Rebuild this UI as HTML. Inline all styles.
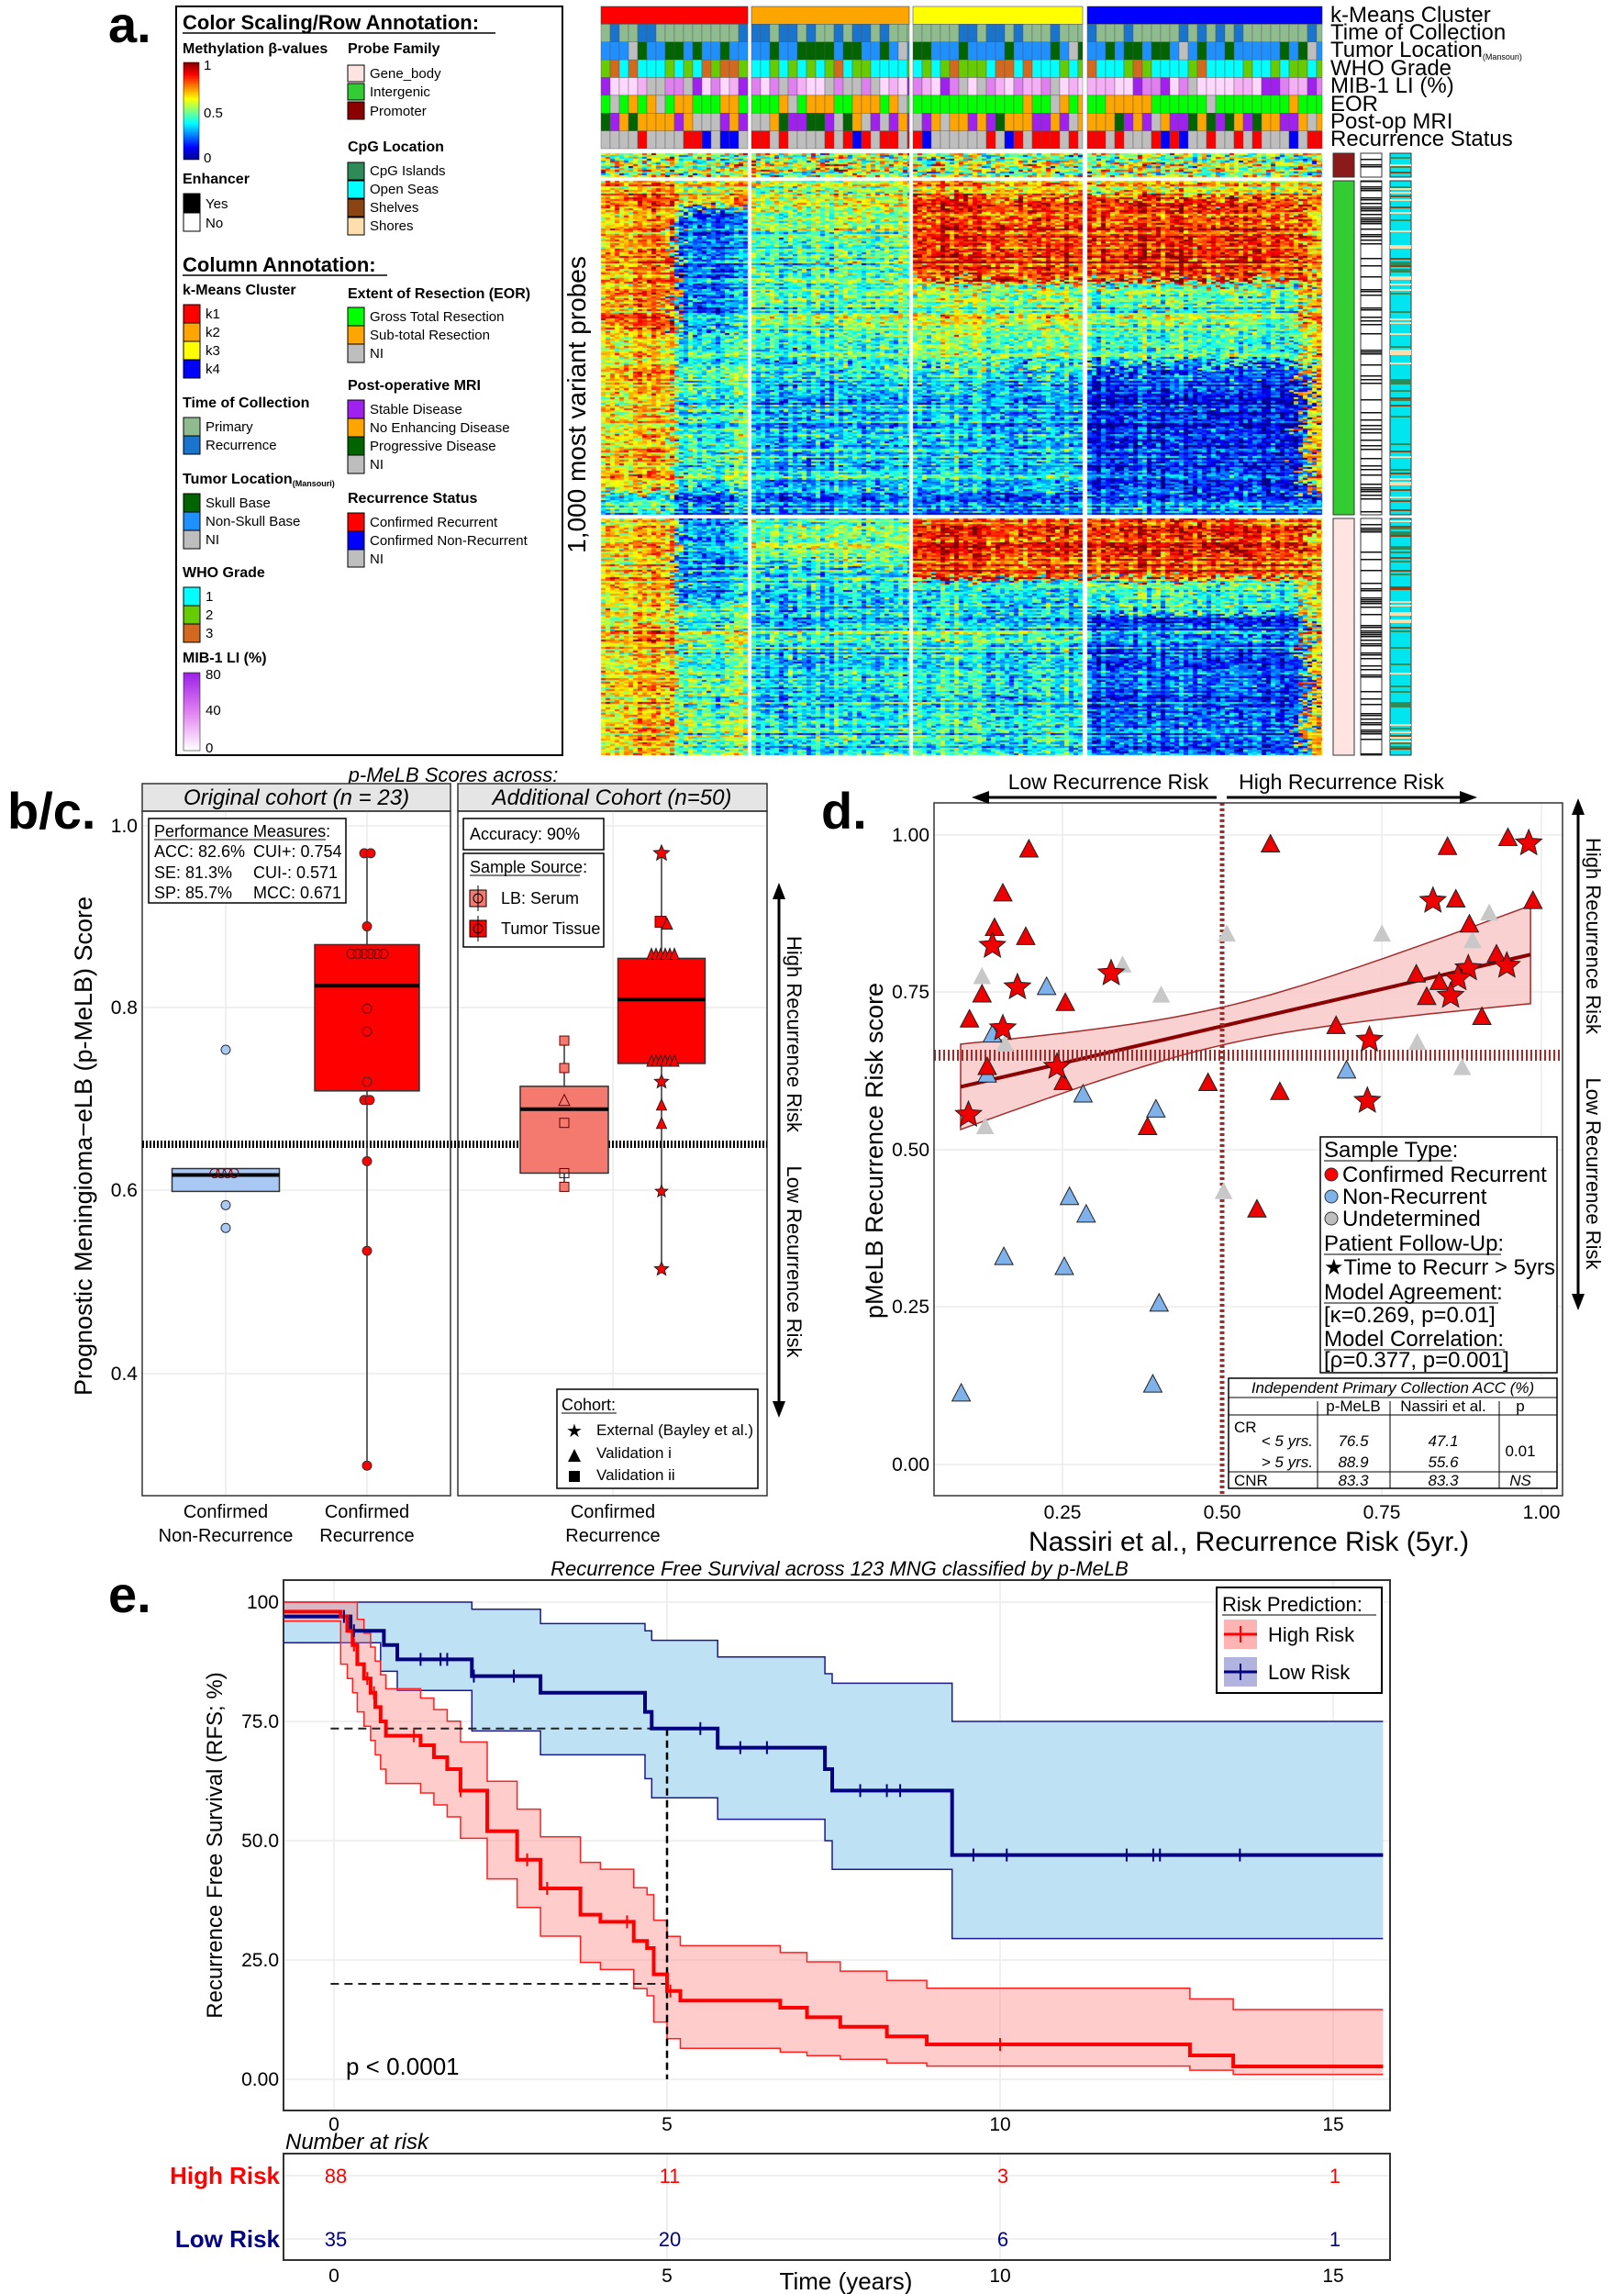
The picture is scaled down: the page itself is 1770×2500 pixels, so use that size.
<!DOCTYPE html>
<html><head><meta charset="utf-8">
<style>
html,body{margin:0;padding:0;background:#fff;}
#wrap{position:relative;width:1770px;height:2500px;overflow:hidden;}
#hm{position:absolute;left:0;top:0;}
svg{position:absolute;left:0;top:0;}
text{font-family:"Liberation Sans Narrow","Liberation Sans",sans-serif;}
.w{font-family:"Liberation Sans",sans-serif;}
</style></head>
<body><div id="wrap">
<canvas id="hm" width="1770" height="830"></canvas>
<svg id="s" width="1770" height="2500" xmlns="http://www.w3.org/2000/svg">
<text x="118" y="46" font-size="56" font-weight="bold" class="w">a.</text>
<rect x="192" y="7" width="421" height="816" fill="none" stroke="#000" stroke-width="2"/>
<text x="199" y="32" font-size="22" font-weight="bold">Color Scaling/Row Annotation:</text>
<line x1="199" y1="36" x2="540" y2="36" stroke="#000" stroke-width="1.5"/>
<defs>
<linearGradient id="jet" x1="0" y1="1" x2="0" y2="0">
<stop offset="0" stop-color="#00008f"/><stop offset="0.125" stop-color="#0000ff"/><stop offset="0.375" stop-color="#00ffff"/><stop offset="0.5" stop-color="#80ff80"/><stop offset="0.625" stop-color="#ffff00"/><stop offset="0.875" stop-color="#ff0000"/><stop offset="1" stop-color="#800000"/></linearGradient>
<linearGradient id="mib" x1="0" y1="1" x2="0" y2="0"><stop offset="0" stop-color="#ffffff"/><stop offset="0.5" stop-color="#e080f0"/><stop offset="1" stop-color="#9a20e8"/></linearGradient>
</defs>
<text x="199" y="58" font-size="16" font-weight="bold">Methylation β-values</text>
<text x="379" y="58" font-size="16" font-weight="bold">Probe Family</text>
<rect x="200" y="68" width="17" height="106" fill="url(#jet)" stroke="#000" stroke-width="0.5"/>
<text x="222" y="76" font-size="15">1</text><text x="222" y="128" font-size="15">0.5</text><text x="222" y="177" font-size="15">0</text>
<rect x="379" y="71" width="18" height="18" fill="#ffe4e1" stroke="#000"/><text x="403" y="85" font-size="15">Gene_body</text>
<rect x="379" y="91" width="18" height="18" fill="#33cc33" stroke="#000"/><text x="403" y="105" font-size="15">Intergenic</text>
<rect x="379" y="111" width="18" height="19" fill="#8b0000" stroke="#000"/><text x="403" y="126" font-size="15">Promoter</text>
<text x="379" y="165" font-size="16" font-weight="bold">CpG Location</text>
<rect x="379" y="177" width="18" height="19" fill="#2e8b57" stroke="#000"/><text x="403" y="191" font-size="15">CpG Islands</text>
<rect x="379" y="197" width="18" height="19" fill="#00ffff" stroke="#000"/><text x="403" y="211" font-size="15">Open Seas</text>
<rect x="379" y="217" width="18" height="19" fill="#8b4513" stroke="#000"/><text x="403" y="231" font-size="15">Shelves</text>
<rect x="379" y="237" width="18" height="19" fill="#ffdead" stroke="#000"/><text x="403" y="251" font-size="15">Shores</text>
<text x="199" y="200" font-size="16" font-weight="bold">Enhancer</text>
<rect x="200" y="211" width="18" height="20" fill="#000" stroke="#000"/><text x="224" y="227" font-size="15">Yes</text>
<rect x="200" y="232" width="18" height="20" fill="#fff" stroke="#000"/><text x="224" y="248" font-size="15">No</text>
<text x="199" y="296" font-size="22" font-weight="bold">Column Annotation:</text>
<line x1="199" y1="300" x2="422" y2="300" stroke="#000" stroke-width="1.5"/>
<text x="199" y="321" font-size="16" font-weight="bold">k-Means Cluster</text>
<rect x="200" y="332" width="18" height="20" fill="#ff0000" stroke="#000"/><text x="224" y="347" font-size="15">k1</text>
<rect x="200" y="352" width="18" height="20" fill="#ffa500" stroke="#000"/><text x="224" y="367" font-size="15">k2</text>
<rect x="200" y="372" width="18" height="20" fill="#ffff00" stroke="#000"/><text x="224" y="387" font-size="15">k3</text>
<rect x="200" y="392" width="18" height="20" fill="#0000ff" stroke="#000"/><text x="224" y="407" font-size="15">k4</text>
<text x="379" y="325" font-size="16" font-weight="bold">Extent of Resection (EOR)</text>
<rect x="379" y="335" width="18" height="20" fill="#00ff00" stroke="#000"/><text x="403" y="350" font-size="15">Gross Total Resection</text>
<rect x="379" y="355" width="18" height="20" fill="#ffa500" stroke="#000"/><text x="403" y="370" font-size="15">Sub-total Resection</text>
<rect x="379" y="375" width="18" height="20" fill="#bebebe" stroke="#000"/><text x="403" y="390" font-size="15">NI</text>
<text x="379" y="425" font-size="16" font-weight="bold">Post-operative MRI</text>
<rect x="379" y="436" width="18" height="20" fill="#a020f0" stroke="#000"/><text x="403" y="451" font-size="15">Stable Disease</text>
<rect x="379" y="456" width="18" height="20" fill="#ffa500" stroke="#000"/><text x="403" y="471" font-size="15">No Enhancing Disease</text>
<rect x="379" y="476" width="18" height="20" fill="#006400" stroke="#000"/><text x="403" y="491" font-size="15">Progressive Disease</text>
<rect x="379" y="496" width="18" height="20" fill="#bebebe" stroke="#000"/><text x="403" y="511" font-size="15">NI</text>
<text x="199" y="444" font-size="16" font-weight="bold">Time of Collection</text>
<rect x="200" y="455" width="18" height="20" fill="#8fbc8f" stroke="#000"/><text x="224" y="470" font-size="15">Primary</text>
<rect x="200" y="475" width="18" height="20" fill="#1874cd" stroke="#000"/><text x="224" y="490" font-size="15">Recurrence</text>
<text x="199" y="527" font-size="16" font-weight="bold">Tumor Location<tspan font-size="9" dy="3">(Mansouri)</tspan></text>
<rect x="200" y="538" width="18" height="20" fill="#006400" stroke="#000"/><text x="224" y="553" font-size="15">Skull Base</text>
<rect x="200" y="558" width="18" height="20" fill="#1e90ff" stroke="#000"/><text x="224" y="573" font-size="15">Non-Skull Base</text>
<rect x="200" y="578" width="18" height="20" fill="#bebebe" stroke="#000"/><text x="224" y="593" font-size="15">NI</text>
<text x="379" y="548" font-size="16" font-weight="bold">Recurrence Status</text>
<rect x="379" y="559" width="18" height="20" fill="#ff0000" stroke="#000"/><text x="403" y="574" font-size="15">Confirmed Recurrent</text>
<rect x="379" y="579" width="18" height="20" fill="#0000ff" stroke="#000"/><text x="403" y="594" font-size="15">Confirmed Non-Recurrent</text>
<rect x="379" y="599" width="18" height="19" fill="#bebebe" stroke="#000"/><text x="403" y="614" font-size="15">NI</text>
<text x="199" y="629" font-size="16" font-weight="bold">WHO Grade</text>
<rect x="200" y="640" width="18" height="20" fill="#00ffff" stroke="#000"/><text x="224" y="655" font-size="15">1</text>
<rect x="200" y="660" width="18" height="20" fill="#66cc00" stroke="#000"/><text x="224" y="675" font-size="15">2</text>
<rect x="200" y="680" width="18" height="20" fill="#d2691e" stroke="#000"/><text x="224" y="695" font-size="15">3</text>
<text x="199" y="722" font-size="16" font-weight="bold">MIB-1 LI (%)</text>
<rect x="200" y="733" width="18" height="85" fill="url(#mib)" stroke="#000" stroke-width="0.5"/>
<text x="224" y="740" font-size="15">80</text><text x="224" y="779" font-size="15">40</text><text x="224" y="820" font-size="15">0</text>
<g font-size="24">
<text x="1450" y="24">k-Means Cluster</text>
<text x="1450" y="43">Time of Collection</text>
<text x="1450" y="62">Tumor Location<tspan font-size="9" dy="3">(Mansouri)</tspan></text>
<text x="1450" y="82">WHO Grade</text>
<text x="1450" y="101">MIB-1 LI (%)</text>
<text x="1450" y="121">EOR</text>
<text x="1450" y="140">Post-op MRI</text>
<text x="1450" y="159">Recurrence Status</text>
</g>
<text class="w" transform="translate(638,441) rotate(-90)" text-anchor="middle" font-size="28">1,000 most variant probes</text>
<g id="ann"></g>

<text x="8" y="903" font-size="56" font-weight="bold" class="w">b/c.</text>
<text x="494" y="852" font-size="22" font-style="italic" text-anchor="middle">p-MeLB Scores across:</text>
<rect x="155" y="854" width="336" height="30" fill="#e5e5e5" stroke="#333" stroke-width="1.5"/>
<rect x="499" y="854" width="337" height="30" fill="#e5e5e5" stroke="#333" stroke-width="1.5"/>
<text x="323" y="877" font-size="24" font-style="italic" text-anchor="middle">Original cohort (n = 23)</text>
<text x="667" y="877" font-size="24" font-style="italic" text-anchor="middle">Additional Cohort (n=50)</text>
<g stroke="#ebebeb" stroke-width="1.5">
<line x1="155" y1="900" x2="491" y2="900"/><line x1="155" y1="1098" x2="491" y2="1098"/><line x1="155" y1="1297" x2="491" y2="1297"/><line x1="155" y1="1497" x2="491" y2="1497"/>
<line x1="499" y1="900" x2="836" y2="900"/><line x1="499" y1="1098" x2="836" y2="1098"/><line x1="499" y1="1297" x2="836" y2="1297"/><line x1="499" y1="1497" x2="836" y2="1497"/>
<line x1="246" y1="884" x2="246" y2="1630"/><line x1="400" y1="884" x2="400" y2="1630"/><line x1="668" y1="884" x2="668" y2="1630"/>
</g>
<rect x="155" y="884" width="336" height="746" fill="none" stroke="#333" stroke-width="1.5"/>
<rect x="499" y="884" width="337" height="746" fill="none" stroke="#333" stroke-width="1.5"/>
<g font-size="21" text-anchor="end"><text x="150" y="907">1.0</text><text x="150" y="1105">0.8</text><text x="150" y="1304">0.6</text><text x="150" y="1504">0.4</text></g>
<text class="w" transform="translate(100,1249) rotate(-90)" text-anchor="middle" font-size="27">Prognostic Meningioma−eLB (p-MeLB) Score</text>
<g font-size="20" text-anchor="middle">
<text x="246" y="1654">Confirmed</text><text x="246" y="1680">Non-Recurrence</text>
<text x="400" y="1654">Confirmed</text><text x="400" y="1680">Recurrence</text>
<text x="668" y="1654">Confirmed</text><text x="668" y="1680">Recurrence</text>
</g>
<line x1="155" y1="1247" x2="836" y2="1247" stroke="#000" stroke-width="8" stroke-dasharray="2,2"/>
<g id="bc"></g>
<rect x="162" y="892" width="215" height="92" fill="#fff" stroke="#000" stroke-width="1.5"/>
<g font-size="18"><text x="168" y="912">Performance Measures:</text>
<line x1="168" y1="915" x2="355" y2="915" stroke="#000"/>
<text x="168" y="934">ACC: 82.6%</text><text x="276" y="934">CUI+: 0.754</text>
<text x="168" y="957">SE: 81.3%</text><text x="276" y="957">CUI-: 0.571</text>
<text x="168" y="979">SP: 85.7%</text><text x="276" y="979">MCC: 0.671</text></g>
<rect x="505" y="892" width="153" height="34" fill="#fff" stroke="#000" stroke-width="1.5"/>
<text x="512" y="915" font-size="18">Accuracy: 90%</text>
<rect x="505" y="930" width="153" height="102" fill="#fff" stroke="#000" stroke-width="1.5"/>
<text x="512" y="951" font-size="18">Sample Source:</text><line x1="512" y1="954" x2="632" y2="954" stroke="#000"/>
<rect x="512" y="970" width="18" height="18" fill="#f4796e" stroke="#000"/><circle cx="521" cy="979" r="5" fill="none" stroke="#000"/><line x1="521" y1="965" x2="521" y2="993" stroke="#000"/>
<rect x="512" y="1003" width="18" height="18" fill="#f00" stroke="#000"/><circle cx="521" cy="1012" r="5" fill="none" stroke="#000"/><line x1="521" y1="998" x2="521" y2="1026" stroke="#000"/>
<text x="546" y="985" font-size="18">LB: Serum</text><text x="546" y="1018" font-size="18">Tumor Tissue</text>
<rect x="607" y="1514" width="219" height="108" fill="#fff" stroke="#000" stroke-width="1.5"/>
<text x="612" y="1537" font-size="18">Cohort:</text><line x1="612" y1="1540" x2="672" y2="1540" stroke="#000"/>
<text x="617" y="1566" font-size="20">★</text><text x="650" y="1564" font-size="17">External (Bayley et al.)</text>
<polygon points="626,1579 619,1593 633,1593" fill="#000"/><text x="650" y="1589" font-size="17">Validation i</text>
<rect x="620" y="1603" width="12" height="12" fill="#000"/><text x="650" y="1613" font-size="17">Validation ii</text>
<line x1="849" y1="975" x2="849" y2="1532" stroke="#000" stroke-width="3"/>
<polygon points="849,962 842,980 856,980" fill="#000"/><polygon points="849,1545 842,1527 856,1527" fill="#000"/>
<text class="w" transform="translate(858,1127) rotate(90)" text-anchor="middle" font-size="22">High Recurrence Risk</text>
<text class="w" transform="translate(858,1375) rotate(90)" text-anchor="middle" font-size="22">Low Recurrence Risk</text>

<text x="895" y="903" font-size="56" font-weight="bold" class="w">d.</text>
<g stroke="#ebebeb" stroke-width="1.5">
<line x1="1018" y1="910" x2="1703" y2="910"/><line x1="1018" y1="1081" x2="1703" y2="1081"/><line x1="1018" y1="1253" x2="1703" y2="1253"/><line x1="1018" y1="1424" x2="1703" y2="1424"/><line x1="1018" y1="1596" x2="1703" y2="1596"/>
<line x1="1158" y1="875" x2="1158" y2="1630"/><line x1="1332" y1="875" x2="1332" y2="1630"/><line x1="1506" y1="875" x2="1506" y2="1630"/><line x1="1680" y1="875" x2="1680" y2="1630"/>
</g>
<g id="dband"></g>
<line x1="1018" y1="1150" x2="1703" y2="1150" stroke="#a52a2a" stroke-width="12" stroke-dasharray="2,3"/>
<line x1="1332" y1="875" x2="1332" y2="1630" stroke="#a52a2a" stroke-width="5" stroke-dasharray="3,3"/>
<g id="dpts"></g>
<rect x="1018" y="875" width="685" height="755" fill="none" stroke="#333" stroke-width="1.5"/>
<g font-size="21" text-anchor="end"><text x="1013" y="917">1.00</text><text x="1013" y="1088">0.75</text><text x="1013" y="1260">0.50</text><text x="1013" y="1431">0.25</text><text x="1013" y="1603">0.00</text></g>
<g font-size="21" text-anchor="middle"><text x="1158" y="1655">0.25</text><text x="1332" y="1655">0.50</text><text x="1506" y="1655">0.75</text><text x="1680" y="1655">1.00</text></g>
<text x="1361" y="1690" font-size="30" text-anchor="middle">Nassiri et al., Recurrence Risk (5yr.)</text>
<text class="w" transform="translate(962,1254) rotate(-90)" text-anchor="middle" font-size="27">pMeLB Recurrence Risk score</text>
<text class="w" x="1208" y="860" font-size="23" text-anchor="middle">Low Recurrence Risk</text>
<text class="w" x="1462" y="860" font-size="23" text-anchor="middle">High Recurrence Risk</text>
<line x1="1075" y1="869" x2="1326" y2="869" stroke="#000" stroke-width="3"/><polygon points="1059,869 1078,862 1078,876" fill="#000"/>
<line x1="1337" y1="869" x2="1594" y2="869" stroke="#000" stroke-width="3"/><polygon points="1610,869 1591,862 1591,876" fill="#000"/>
<line x1="1720" y1="885" x2="1720" y2="1414" stroke="#000" stroke-width="3"/>
<polygon points="1720,870 1713,888 1727,888" fill="#000"/><polygon points="1720,1428 1713,1410 1727,1410" fill="#000"/>
<text class="w" transform="translate(1729,1020) rotate(90)" text-anchor="middle" font-size="22">High Recurrence Risk</text>
<text class="w" transform="translate(1729,1279) rotate(90)" text-anchor="middle" font-size="22">Low Recurrence Risk</text>
<rect x="1439" y="1239" width="258" height="257" fill="#fff" stroke="#000" stroke-width="1.5"/>
<g font-size="24">
<text x="1443" y="1261">Sample Type:</text><line x1="1443" y1="1265" x2="1583" y2="1265" stroke="#000"/>
<circle cx="1451" cy="1280" r="7" fill="#ff0000" stroke="#333"/><text x="1463" y="1288">Confirmed Recurrent</text>
<circle cx="1451" cy="1304" r="7" fill="#7fb2ea" stroke="#333"/><text x="1463" y="1312">Non-Recurrent</text>
<circle cx="1451" cy="1328" r="7" fill="#bebebe" stroke="#333"/><text x="1463" y="1336">Undetermined</text>
<text x="1443" y="1363">Patient Follow-Up:</text><line x1="1443" y1="1367" x2="1636" y2="1367" stroke="#000"/>
<text x="1443" y="1389">★Time to Recurr &gt; 5yrs</text>
<text x="1443" y="1416">Model Agreement:</text><line x1="1443" y1="1420" x2="1633" y2="1420" stroke="#000"/>
<text x="1443" y="1441">[κ=0.269, p=0.01]</text>
<text x="1443" y="1467">Model Correlation:</text><line x1="1443" y1="1471" x2="1640" y2="1471" stroke="#000"/>
<text x="1443" y="1490">[ρ=0.377, p=0.001]</text>
</g>
<rect x="1339" y="1502" width="358" height="120" fill="#fff" stroke="#000" stroke-width="1.5"/>
<g font-size="17">
<text x="1518" y="1518" text-anchor="middle" font-style="italic">Independent Primary Collection ACC (%)</text>
<line x1="1339" y1="1523" x2="1697" y2="1523" stroke="#000"/>
<text x="1475" y="1538" text-anchor="middle">p-MeLB</text><text x="1573" y="1538" text-anchor="middle">Nassiri et al.</text><text x="1657" y="1538" text-anchor="middle">p</text>
<line x1="1339" y1="1542" x2="1697" y2="1542" stroke="#000"/>
<line x1="1436" y1="1527" x2="1436" y2="1622" stroke="#000"/><line x1="1515" y1="1527" x2="1515" y2="1622" stroke="#000"/><line x1="1634" y1="1527" x2="1634" y2="1622" stroke="#000"/>
<text x="1345" y="1561">CR</text>
<text x="1431" y="1576" text-anchor="end" font-style="italic">&lt; 5 yrs.</text><text x="1475" y="1576" text-anchor="middle" font-style="italic">76.5</text><text x="1573" y="1576" text-anchor="middle" font-style="italic">47.1</text>
<text x="1431" y="1599" text-anchor="end" font-style="italic">&gt; 5 yrs.</text><text x="1475" y="1599" text-anchor="middle" font-style="italic">88.9</text><text x="1573" y="1599" text-anchor="middle" font-style="italic">55.6</text>
<text x="1657" y="1587" text-anchor="middle">0.01</text>
<line x1="1339" y1="1604" x2="1697" y2="1604" stroke="#000"/>
<text x="1345" y="1619">CNR</text><text x="1475" y="1619" text-anchor="middle" font-style="italic">83.3</text><text x="1573" y="1619" text-anchor="middle" font-style="italic">83.3</text><text x="1657" y="1619" text-anchor="middle" font-style="italic">NS</text>
</g>

<text x="118" y="1757" font-size="56" font-weight="bold" class="w">e.</text>
<text x="915" y="1717" font-size="22" font-style="italic" text-anchor="middle">Recurrence Free Survival across 123 MNG classified by p-MeLB</text>
<g stroke="#ebebeb" stroke-width="1.5">
<line x1="309" y1="1746" x2="1515" y2="1746"/><line x1="309" y1="1876" x2="1515" y2="1876"/><line x1="309" y1="2006" x2="1515" y2="2006"/><line x1="309" y1="2136" x2="1515" y2="2136"/><line x1="309" y1="2266" x2="1515" y2="2266"/>
<line x1="364" y1="1722" x2="364" y2="2300"/><line x1="727" y1="1722" x2="727" y2="2300"/><line x1="1090" y1="1722" x2="1090" y2="2300"/><line x1="1453" y1="1722" x2="1453" y2="2300"/>
</g>
<g id="km"></g>
<rect x="309" y="1722" width="1206" height="578" fill="none" stroke="#333" stroke-width="2"/>
<g font-size="21" text-anchor="end"><text x="304" y="1753">100</text><text x="304" y="1883">75.0</text><text x="304" y="2013">50.0</text><text x="304" y="2143">25.0</text><text x="304" y="2273">0.00</text></g>
<g font-size="21" text-anchor="middle"><text x="364" y="2322">0</text><text x="727" y="2322">5</text><text x="1090" y="2322">10</text><text x="1453" y="2322">15</text></g>
<text class="w" transform="translate(242,2011) rotate(-90)" text-anchor="middle" font-size="24">Recurrence Free Survival (RFS; %)</text>
<text x="377" y="2261" font-size="26">p &lt; 0.0001</text>
<rect x="1326" y="1730" width="180" height="115" fill="#fff" stroke="#000" stroke-width="2"/>
<text x="1332" y="1756" font-size="22">Risk Prediction:</text><line x1="1332" y1="1760" x2="1500" y2="1760" stroke="#000"/>
<rect x="1334" y="1765" width="36" height="32" fill="#ffb3b3"/><line x1="1334" y1="1781" x2="1370" y2="1781" stroke="#f00" stroke-width="3"/><line x1="1352" y1="1772" x2="1352" y2="1790" stroke="#f00" stroke-width="2"/>
<rect x="1334" y="1806" width="36" height="32" fill="#b3b3e0"/><line x1="1334" y1="1822" x2="1370" y2="1822" stroke="#000080" stroke-width="3"/><line x1="1352" y1="1813" x2="1352" y2="1831" stroke="#000080" stroke-width="2"/>
<text x="1382" y="1789" font-size="22">High Risk</text><text x="1382" y="1830" font-size="22">Low Risk</text>
<text x="311" y="2342" font-size="24" font-style="italic">Number at risk</text>
<line x1="309" y1="2371" x2="1515" y2="2371" stroke="#ebebeb" stroke-width="1.5"/><line x1="309" y1="2440" x2="1515" y2="2440" stroke="#ebebeb" stroke-width="1.5"/>
<line x1="727" y1="2347" x2="727" y2="2463" stroke="#ebebeb" stroke-width="1.5"/><line x1="1090" y1="2347" x2="1090" y2="2463" stroke="#ebebeb" stroke-width="1.5"/>
<rect x="309" y="2347" width="1206" height="116" fill="none" stroke="#333" stroke-width="2"/>
<text x="305" y="2380" font-size="26" font-weight="bold" fill="#ff0000" text-anchor="end">High Risk</text>
<text x="305" y="2449" font-size="26" font-weight="bold" fill="#000080" text-anchor="end">Low Risk</text>
<g font-size="22" text-anchor="middle" fill="#ff0000"><text x="366" y="2379">88</text><text x="730" y="2379">11</text><text x="1093" y="2379">3</text><text x="1455" y="2379">1</text></g>
<g font-size="22" text-anchor="middle" fill="#000080"><text x="366" y="2448">35</text><text x="730" y="2448">20</text><text x="1093" y="2448">6</text><text x="1455" y="2448">1</text></g>
<g font-size="21" text-anchor="middle"><text x="364" y="2487">0</text><text x="727" y="2487">5</text><text x="1090" y="2487">10</text><text x="1453" y="2487">15</text></g>
<text x="922" y="2495" font-size="26" text-anchor="middle">Time (years)</text>
</svg>
</div>
<script>
(function(){
var seed=12345;function rnd(){seed=(seed*16807)%2147483647;return (seed-1)/2147483646;}
function gauss(){return (rnd()+rnd()+rnd()-1.5)*0.9;}
function cl(v){return v<0?0:v>1?1:v;}
function jet(v){v=cl(v);var r=cl(1.5-Math.abs(4*v-3)),g=cl(1.5-Math.abs(4*v-2)),b=cl(1.5-Math.abs(4*v-1));return 'rgb('+(r*255|0)+','+(g*255|0)+','+(b*255|0)+')';}
var cv=document.getElementById('hm').getContext('2d');
var CL=[[655,815],[819,991],[995,1180],[1185,1441]];
function mean(ci,fx,t,blk){
 if(blk==0) return 0.5;
 if(blk==1){
  if(t>0.93) return ci==0&&fx<0.5?0.4:0.25;
  if(ci==0){if(fx<0.5) return t<0.45?0.72:0.66; if(t<0.08)return 0.65; return t<0.45?0.28:0.45;}
  if(ci==1){return t<0.15?0.55:(t<0.55?0.44:0.32);}
  if(ci==2){if(t<0.05)return 0.7;return t<0.3?0.85:(t<0.55?0.52:0.34);}
  if(fx>0.92) return 0.68; if(t<0.05)return 0.65; return t<0.3?0.85:(t<0.55?0.45:0.16);
 }
 if(ci==0){return fx<0.5?0.66:(t<0.35?0.32:0.5);}
 if(ci==1){return t<0.2?0.48:0.36;}
 if(ci==2){return t<0.25?0.84:0.4;}
 if(fx>0.92) return 0.68; return t<0.25?0.84:(t<0.4?0.45:0.22);
}
var BL=[[167,193],[197,561],[565,823]];
var colN=[];for(var i=0;i<400;i++)colN.push(gauss()*0.1);
for(var b=0;b<3;b++){var y0=BL[b][0],y1=BL[b][1];
 for(var y=y0;y<y1;y+=2){var rn=gauss()*0.16;var t=(y-y0)/(y1-y0);
  for(var c=0;c<4;c++){var x0=CL[c][0],x1=CL[c][1];var ci=0;
   for(var x=x0;x<x1;x+=5){var fx=(x-x0)/(x1-x0);var fx2=cl(fx+gauss()*0.08);
    var v=mean(c,fx2,t+gauss()*0.03,b)+rn+colN[(x/5)|0]+gauss()*(b==0?0.35:0.2);
    cv.fillStyle=jet(v);cv.fillRect(x,y,Math.min(5,x1-x),2);}}}}
var rows=[null,
 [['#8fbc8f',0.7],['#1874cd',0.3]],
 [['#1e90ff',0.65],['#006400',0.3],['#bebebe',0.05]],
 [['#00ffff',0.55],['#66cc00',0.35],['#d2691e',0.1]],
 [['#f5b0f5',0.3],['#e080f0',0.2],['#ffd8ff',0.2],['#a020f0',0.1],['#bebebe',0.2]],
 [['#00ff00',0.55],['#ffa500',0.35],['#bebebe',0.1]],
 [['#ffa500',0.4],['#a020f0',0.25],['#006400',0.15],['#bebebe',0.2]],
 [['#bebebe',0.6],['#ff0000',0.3],['#0000ff',0.1]]];
var kc=['#ff0000','#ffa500','#ffff00','#0000ff'];
function pick(p){var r=rnd(),a=0;for(var i=0;i<p.length;i++){a+=p[i][1];if(r<a)return p[i][0];}return p[0][0];}
var h='';var rh=155/8;
for(var c=0;c<4;c++){var x0=CL[c][0],x1=CL[c][1];
 h+='<rect x="'+x0+'" y="7" width="'+(x1-x0)+'" height="'+rh+'" fill="'+kc[c]+'" stroke="#333" stroke-width="0.5"/>';
 for(var r=1;r<8;r++){var yy=7+r*rh;
  for(var x=x0;x<x1;x+=10){var w=Math.min(10,x1-x);
   h+='<rect x="'+x+'" y="'+yy.toFixed(1)+'" width="'+w+'" height="'+rh.toFixed(1)+'" fill="'+pick(rows[r])+'" stroke="#555" stroke-width="0.4"/>';}}}
h+='<rect x="1453" y="167" width="23" height="26" fill="#8b1a1a" stroke="#333"/><rect x="1453" y="197" width="23" height="364" fill="#33cc33" stroke="#333"/><rect x="1453" y="565" width="23" height="258" fill="#ffe4e1" stroke="#333"/>';
var BB=[[167,193],[197,561],[565,823]];
for(var b=0;b<3;b++){var y0=BB[b][0],y1=BB[b][1];
 h+='<rect x="1483" y="'+y0+'" width="23" height="'+(y1-y0)+'" fill="#fff" stroke="#333"/>';
 h+='<rect x="1515" y="'+y0+'" width="23" height="'+(y1-y0)+'" fill="#00e5ee" stroke="#333"/>';
 for(var y=y0;y<y1;y+=2){if(rnd()<0.35)h+='<rect x="1483" y="'+y+'" width="23" height="1.5" fill="#111"/>';
  var q=rnd();if(q<0.15)h+='<rect x="1515" y="'+y+'" width="23" height="2" fill="#2e8b57"/>';else if(q<0.25)h+='<rect x="1515" y="'+y+'" width="23" height="2" fill="#ffdead"/>';else if(q<0.3)h+='<rect x="1515" y="'+y+'" width="23" height="2" fill="#8b4513"/>';}}
document.getElementById('ann').innerHTML=h;

function Yb(v){return 900+(1-v)*996;}
var s='';
function box(cx,w,q1,md,q3,lo,hi,fill){
 s+='<line x1="'+cx+'" y1="'+Yb(hi)+'" x2="'+cx+'" y2="'+Yb(lo)+'" stroke="#333" stroke-width="1.5"/>';
 s+='<rect x="'+(cx-w/2)+'" y="'+Yb(q3)+'" width="'+w+'" height="'+(Yb(q1)-Yb(q3))+'" fill="'+fill+'" stroke="#333" stroke-width="1.5"/>';
 s+='<line x1="'+(cx-w/2)+'" y1="'+Yb(md)+'" x2="'+(cx+w/2)+'" y2="'+Yb(md)+'" stroke="#000" stroke-width="4"/>';}
function circ(x,v,f,hol){s+='<circle cx="'+x+'" cy="'+Yb(v)+'" r="5" fill="'+(hol?'none':f)+'" stroke="'+(hol?'#600':'#333')+'" stroke-width="1"/>';}
function star(x,y,r,f){var p=[];for(var i=0;i<10;i++){var a=-Math.PI/2+i*Math.PI/5,rr=i%2?r*0.45:r;p.push((x+rr*Math.cos(a)).toFixed(1)+','+(y+rr*Math.sin(a)).toFixed(1));}return '<polygon points="'+p.join(' ')+'" fill="'+f+'" stroke="#222" stroke-width="1"/>';}
function tri(x,y,w,hh,f,st){return '<polygon points="'+x+','+(y-hh/2)+' '+(x-w/2)+','+(y+hh/2)+' '+(x+w/2)+','+(y+hh/2)+'" fill="'+f+'" stroke="'+(st||'#222')+'" stroke-width="1"/>';}
box(246,117,0.60,0.618,0.625,0.60,0.625,'#a9c8f4');
box(400,114,0.71,0.825,0.87,0.30,0.97,'#ff0000');
box(615,96,0.62,0.69,0.715,0.605,0.765,'#f4796e');
box(721,95,0.74,0.81,0.855,0.515,0.97,'#ff0000');
[[246,0.755],[246,0.585],[246,0.56]].forEach(function(p){circ(p[0],p[1],'#a9c8f4');});
[234,241,248,255].forEach(function(x){circ(x,0.62,'',true);});
[[397,0.97],[404,0.97],[400,0.89],[400,0.72],[397,0.70],[403,0.70],[400,0.633],[400,0.535],[400,0.30]].forEach(function(p){circ(p[0],p[1],'#ff0000');});
[383,390,397,404,411,418].forEach(function(x){circ(x,0.86,'',true);});
[0.80,0.775].forEach(function(v){circ(400,v,'',true);});
[[0.765],[0.735],[0.675],[0.62],[0.605]].forEach(function(p){var y=Yb(p[0]);s+='<rect x="610" y="'+(y-5)+'" width="10" height="10" fill="'+(p[0]>0.7||p[0]<0.61?'#f4796e':'none')+'" stroke="#600"/>';});
s+=tri(615,Yb(0.70),12,12,'none','#600');
s+=star(721,Yb(0.97),9,'#f00')+'<rect x="714" y="'+(Yb(0.895)-6)+'" width="12" height="12" fill="#f00" stroke="#600"/>'+tri(727,Yb(0.893),12,12,'#f00');
for(var i=0;i<6;i++){s+=tri(710+i*5,Yb(0.86),10,12,'#f00');s+=tri(710+i*5,Yb(0.743),10,12,'#f00');}
s+=star(721,Yb(0.72),8,'#f00')+tri(721,Yb(0.695),11,12,'#f00')+tri(721,Yb(0.675),11,12,'#f00')+star(721,Yb(0.60),7,'#f00')+star(721,Yb(0.515),8,'#f00');
document.getElementById('bc').innerHTML=s;

function Xd(v){return 1158+(v-0.25)*694;}function Yd(v){return 1596-v*686;}
var bandU=[],bandL=[];
for(var i=0;i<=40;i++){var x=0.09+i*(0.985-0.09)/40;var m=0.60+(x-0.09)*0.2346;var w=Math.sqrt(0.0009+0.022*(x-0.5)*(x-0.5));
 bandU.push(Xd(x).toFixed(1)+','+Yd(m+w).toFixed(1));bandL.unshift(Xd(x).toFixed(1)+','+Yd(m-w).toFixed(1));}
var d='<polygon points="'+bandU.join(' ')+' '+bandL.join(' ')+'" fill="#f9c9c9" fill-opacity="0.85" stroke="#a52a2a" stroke-width="1.5"/>';
d+='<line x1="'+Xd(0.09)+'" y1="'+Yd(0.60)+'" x2="'+Xd(0.985)+'" y2="'+Yd(0.81)+'" stroke="#8b0000" stroke-width="4"/>';
document.getElementById('dband').innerHTML=d;
function P(zx,zy){return [zx*1.135,840+zy*0.545];}
var G=[[943,410],[1078,387],[1115,447],[1178,325],[1327,325],[1430,283],[1414,338],[965,545],[946,710],[1361,542],[1404,592],[1175,840]];
var B=[[1005,430],[953,525],[948,605],[1040,645],[1110,675],[1027,850],[1043,885],[964,970],[1022,990],[1113,1063],[1107,1225],[923,1243],[1293,597]];
var R=[[988,155],[1220,145],[1390,150],[1448,132],[963,243],[1398,255],[1472,258],[955,312],[985,330],[943,445],[1023,462],[931,495],[1411,305],[1360,405],[1437,365],[1370,450],[1382,420],[1283,508],[1423,490],[948,590],[1021,620],[1160,622],[1229,640],[1102,710],[1207,875]];
var S=[[1468,145],[1376,260],[953,350],[977,433],[1067,405],[963,515],[1015,592],[930,688],[1410,395],[1447,390],[1400,415],[1393,450],[1315,538],[1313,660]];
d='';
G.forEach(function(p){var q=P(p[0],p[1]);d+=tri(q[0],q[1],18,17,'#c8c8c8','#c8c8c8');});
B.forEach(function(p){var q=P(p[0],p[1]);d+=tri(q[0],q[1],20,19,'#7fb2ea');});
R.forEach(function(p){var q=P(p[0],p[1]);d+=tri(q[0],q[1],20,19,'#ee0000');});
S.forEach(function(p){var q=P(p[0],p[1]);d+=star(q[0],q[1],15,'#ee0000');});
document.getElementById('dpts').innerHTML=d;

function Xe(t){return 364+72.6*t;}function Ye(v){return 2266-5.2*v;}
var TE=15.75;
function stepPts(a){var p=[];for(var i=0;i<a.length;i++){var t1=i+1<a.length?a[i+1][0]:TE;p.push([a[i][0],a[i][1]]);p.push([t1,a[i][1]]);}return p;}
function pstr(p){return p.map(function(q){return Xe(q[0]).toFixed(1)+','+Ye(q[1]).toFixed(1);}).join(' ');}
var red=[[-0.75,98],[0.1,97],[0.2,94],[0.28,91],[0.35,87],[0.45,84],[0.55,81],[0.62,78],[0.7,75],[0.78,72],[1.3,70],[1.5,67.5],[1.7,65],[1.9,60.5],[2.3,52],[2.75,46],[3.1,40],[3.7,34.5],[4.0,33],[4.5,29],[4.7,27.5],[4.8,22],[5.0,18.5],[5.2,16.5],[6.7,15],[7.1,13],[7.6,11],[8.3,9],[8.9,7.3],[12.85,5],[13.5,2.7]];
var blue=[[-0.75,97],[0.25,94],[0.75,91],[0.95,88],[2.07,84.5],[3.1,81],[4.67,77],[4.77,73.5],[5.76,69.5],[7.37,65],[7.48,60.5],[9.28,47]];
var bu=[[-0.75,100],[2.07,98.5],[3.1,95.5],[4.67,94],[4.77,92],[5.76,88.5],[7.37,85],[7.48,83],[9.28,75]];
var bl=[[-0.75,91.5],[0.7,85.5],[0.95,81.5],[2.07,73],[3.1,68],[4.67,63],[4.77,59],[5.76,54.5],[7.37,50],[7.48,44],[9.28,29.5]];
var ru=red.map(function(q){var S=q[1];return [q[0],Math.min(100,S+9+(100-S)*0.03)];});
var rl=red.map(function(q){var S=q[1];return [q[0],Math.max(0,S-Math.min(10,S*0.62))];});
ru[0][1]=100;rl[0][1]=96;
function band(u,l,fill,st){var pu=stepPts(u),pl=stepPts(l).reverse();return '<polygon points="'+pstr(pu)+' '+pstr(pl)+'" fill="'+fill+'" stroke="none"/><polyline points="'+pstr(pu)+'" fill="none" stroke="'+st+'" stroke-width="1.5"/><polyline points="'+pstr(stepPts(l))+'" fill="none" stroke="'+st+'" stroke-width="1.5"/>';}
var k='';
k+=band(bu,bl,'#bfe1f4','#1a1a8c');
k+=band(ru,rl,'rgba(255,120,120,0.38)','#ff2020');
k+='<line x1="'+Xe(-0.05)+'" y1="'+Ye(73.5)+'" x2="'+Xe(5)+'" y2="'+Ye(73.5)+'" stroke="#222" stroke-width="2" stroke-dasharray="9,6"/>';
k+='<line x1="'+Xe(-0.05)+'" y1="'+Ye(20)+'" x2="'+Xe(5)+'" y2="'+Ye(20)+'" stroke="#222" stroke-width="2" stroke-dasharray="9,6"/>';
k+='<line x1="'+Xe(5)+'" y1="'+Ye(73.5)+'" x2="'+Xe(5)+'" y2="'+Ye(0)+'" stroke="#000" stroke-width="2.5" stroke-dasharray="8,5"/>';
k+='<polyline points="'+pstr(stepPts(blue))+'" fill="none" stroke="#000080" stroke-width="4"/>';
k+='<polyline points="'+pstr(stepPts(red))+'" fill="none" stroke="#ff0000" stroke-width="4"/>';
function valAt(a,t){var v=a[0][1];for(var i=0;i<a.length;i++){if(a[i][0]<=t)v=a[i][1];}return v;}
[0.15,0.3,1.3,1.6,1.7,2.1,2.7,5.5,6.1,6.5,7.9,8.3,8.5,9.6,10.1,11.9,12.3,12.4,13.6].forEach(function(t){var y=Ye(valAt(blue,t));k+='<line x1="'+Xe(t)+'" y1="'+(y-7)+'" x2="'+Xe(t)+'" y2="'+(y+7)+'" stroke="#000080" stroke-width="2"/>';});
[0.3,0.5,0.6,1.2,1.9,2.9,3.2,4.4,5.05,10.0].forEach(function(t){var y=Ye(valAt(red,t));k+='<line x1="'+Xe(t)+'" y1="'+(y-7)+'" x2="'+Xe(t)+'" y2="'+(y+7)+'" stroke="#ff0000" stroke-width="2"/>';});
document.getElementById('km').innerHTML=k;
})();
</script>
</body></html>
